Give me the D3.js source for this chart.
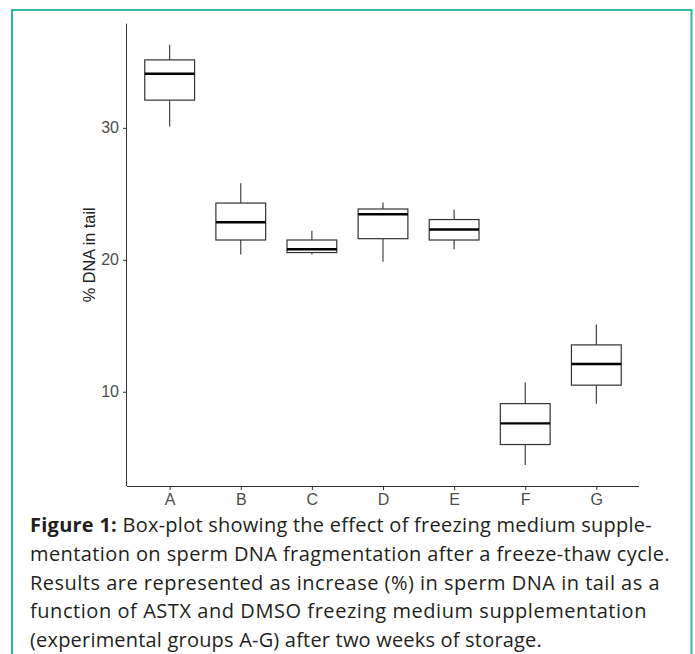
<!DOCTYPE html>
<html>
<head>
<meta charset="utf-8">
<script src="https://cdn.jsdelivr.net/npm/d3@7"></script>
<style>
  body { margin: 0; background: #fff; }
  svg { display: block; }
</style>
</head>
<body>
<div id="chart"></div>
<script>
// data
const groups = ["A", "B", "C", "D", "E", "F", "G"];
const whiskerLow = [30.1, 20.4, 20.4, 19.85, 20.8, 4.45, 9.1];
const q1 = [32.1, 21.5, 20.55, 21.6, 21.5, 6.0, 10.5];
const median = [34.1, 22.85, 20.8, 23.45, 22.3, 7.6, 12.1];
const q3 = [35.15, 24.3, 21.5, 23.85, 23.05, 9.1, 13.55];
const whiskerHigh = [36.3, 25.8, 22.2, 24.35, 23.8, 10.7, 15.1];
const yTicks = [10, 20, 30];

const captionLines = [
  ["Figure 1:", " Box-plot showing the effect of freezing medium supple-"],
  ["", "mentation on sperm DNA fragmentation after a freeze-thaw cycle."],
  ["", "Results are represented as increase (%) in sperm DNA in tail as a"],
  ["", "function of ASTX and DMSO freezing medium supplementation"],
  ["", "(experimental groups A-G) after two weeks of storage."]
];
const captionWidths = [622, 640, 630, 617, 512];

const boxes = groups.map((g, i) => ({
  group: g,
  lo: whiskerLow[i], q1: q1[i], med: median[i], q3: q3[i], hi: whiskerHigh[i]
}));

const width = 695, height = 654;
const svg = d3.select("#chart").append("svg")
  .attr("width", width)
  .attr("height", height);

// frame round the figure
svg.append("rect")
  .attr("x", 12).attr("y", 10)
  .attr("width", 679.5).attr("height", 660)
  .attr("fill", "none")
  .attr("stroke", "#2fb9a0")
  .attr("stroke-width", 2);

const panel = { left: 127, right: 639, top: 23.7, bottom: 486 };

const xScale = d3.scalePoint()
  .domain(groups)
  .range([panel.left, panel.right])
  .padding(0.6);

const lo = d3.min(whiskerLow), hi = d3.max(whiskerHigh);
const pad = (hi - lo) * 0.05;
const yScale = d3.scaleLinear()
  .domain([lo - pad, hi + pad])
  .range([panel.bottom, panel.top]);

const boxW = xScale.step() * 0.7;

const g = svg.append("g");

const box = g.selectAll("g.box")
  .data(boxes)
  .join("g")
  .attr("class", "box");

// whiskers
box.append("line")
  .attr("x1", d => xScale(d.group)).attr("x2", d => xScale(d.group))
  .attr("y1", d => yScale(d.hi)).attr("y2", d => yScale(d.q3))
  .attr("stroke", "#333").attr("stroke-width", 1.1);
box.append("line")
  .attr("x1", d => xScale(d.group)).attr("x2", d => xScale(d.group))
  .attr("y1", d => yScale(d.q1)).attr("y2", d => yScale(d.lo))
  .attr("stroke", "#333").attr("stroke-width", 1.1);

box.append("rect")
  .attr("x", d => xScale(d.group) - boxW / 2)
  .attr("y", d => yScale(d.q3))
  .attr("width", boxW)
  .attr("height", d => yScale(d.q1) - yScale(d.q3))
  .attr("fill", "#fff")
  .attr("stroke", "#333")
  .attr("stroke-width", 1.2);

box.append("line")
  .attr("x1", d => xScale(d.group) - boxW / 2)
  .attr("x2", d => xScale(d.group) + boxW / 2)
  .attr("y1", d => yScale(d.med)).attr("y2", d => yScale(d.med))
  .attr("stroke", "#000").attr("stroke-width", 2.4);

// axes
const xAxis = d3.axisBottom(xScale).tickSize(4).tickPadding(4);
const xAxisGroup = svg.append("g")
  .attr("transform", `translate(0, ${panel.bottom})`)
  .call(xAxis);
xAxisGroup.select(".domain")
  .attr("d", `M${panel.left},0.5H${panel.right}`)
  .attr("stroke", "#333");

const yAxis = d3.axisLeft(yScale).tickValues(yTicks).tickSize(4).tickPadding(4);
const yAxisGroup = svg.append("g")
  .attr("transform", `translate(${panel.left}, 0)`)
  .call(yAxis);
yAxisGroup.select(".domain")
  .attr("d", `M-0.5,${panel.top}V${panel.bottom}`)
  .attr("stroke", "#333");

svg.selectAll(".tick line").attr("stroke", "#333");
svg.selectAll(".tick text")
  .attr("fill", "#4d4d4d")
  .attr("font-family", "'Liberation Sans', Arial, sans-serif")
  .attr("font-size", 16);

svg.append("text")
  .attr("transform", `translate(95, ${(panel.top + panel.bottom) / 2}) rotate(-90)`)
  .attr("text-anchor", "middle")
  .attr("fill", "#222")
  .attr("font-family", "'Liberation Sans', Arial, sans-serif")
  .attr("font-size", 16.3)
  .text("% DNA in tail");

// caption
const caption = svg.append("g")
  .attr("font-family", "'Open Sans', Lato, sans-serif")
  .attr("font-size", 20)
  .attr("fill", "#231f20");

captionLines.forEach((line, i) => {
  const t = caption.append("text")
    .attr("x", 30)
    .attr("y", 532 + i * 28.8);
  if (line[0]) t.append("tspan").attr("font-weight", "bold").text(line[0]);
  t.append("tspan").text(line[1]);
  const natural = t.node().getComputedTextLength();
  const n = (line[0] + line[1]).length;
  t.style("letter-spacing", ((captionWidths[i] - natural) / n) + "px");
});
</script>
</body>
</html>
